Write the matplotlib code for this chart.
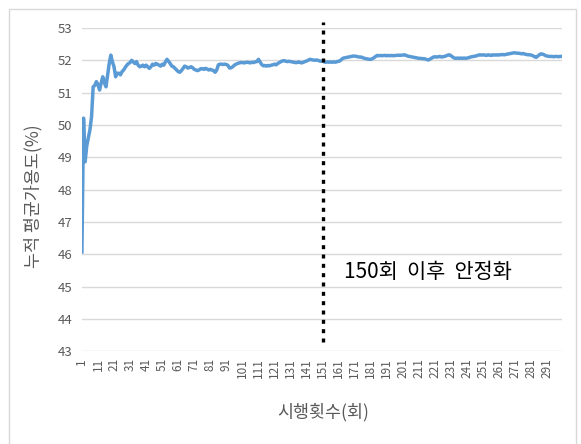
import numpy as np
import matplotlib
matplotlib.use("Agg")
import matplotlib.pyplot as plt
from matplotlib.patches import Rectangle

plt.rcParams['font.family'] = ['Noto Sans CJK KR', 'DejaVu Sans']

# cumulative mean availability (%) per trial (rows of 10 trials)
availability = [
    46.07, 50.21, 48.86, 49.35, 49.60, 49.85, 50.25, 51.18, 51.22, 51.34,
    51.25, 51.08, 51.30, 51.49, 51.30, 51.18, 51.55, 51.90, 52.16, 51.95,
    51.80, 51.49, 51.60, 51.60, 51.55, 51.65, 51.70, 51.78, 51.85, 51.90,
    51.93, 52.00, 51.95, 51.90, 51.96, 51.85, 51.80, 51.82, 51.85, 51.80,
    51.85, 51.80, 51.75, 51.80, 51.88, 51.85, 51.90, 51.88, 51.85, 51.82,
    51.88, 51.85, 51.95, 52.03, 51.97, 51.90, 51.82, 51.80, 51.75, 51.70,
    51.65, 51.63, 51.68, 51.75, 51.82, 51.80, 51.76, 51.78, 51.80, 51.77,
    51.72, 51.70, 51.68, 51.70, 51.74, 51.74, 51.72, 51.75, 51.73, 51.70,
    51.72, 51.70, 51.68, 51.63, 51.70, 51.86, 51.88, 51.88, 51.87, 51.88,
    51.87, 51.84, 51.76, 51.77, 51.80, 51.85, 51.88, 51.90, 51.92, 51.93,
    51.93, 51.92, 51.93, 51.94, 51.93, 51.92, 51.94, 51.93, 51.95, 51.96,
    52.03, 51.95, 51.87, 51.83, 51.84, 51.82, 51.84, 51.83, 51.85, 51.86,
    51.88, 51.86, 51.90, 51.93, 51.96, 51.98, 51.99, 51.97, 51.96, 51.97,
    51.96, 51.95, 51.94, 51.93, 51.93, 51.95, 51.93, 51.92, 51.94, 51.96,
    51.98, 52.00, 52.03, 52.02, 52.01, 52.00, 52.01, 52.00, 51.98, 51.97,
    51.98, 51.95, 51.94, 51.95, 51.94, 51.95, 51.94, 51.95, 51.94, 51.96,
    51.97, 51.99, 52.04, 52.07, 52.08, 52.09, 52.10, 52.11, 52.12, 52.13,
    52.13, 52.12, 52.11, 52.10, 52.10, 52.08, 52.06, 52.05, 52.04, 52.03,
    52.03, 52.05, 52.08, 52.12, 52.15, 52.14, 52.15, 52.14, 52.15, 52.15,
    52.14, 52.15, 52.14, 52.15, 52.14, 52.15, 52.15, 52.16, 52.15, 52.16,
    52.16, 52.17, 52.15, 52.13, 52.12, 52.11, 52.10, 52.09, 52.08, 52.07,
    52.06, 52.06, 52.05, 52.05, 52.04, 52.02, 52.01, 52.04, 52.07, 52.10,
    52.11, 52.10, 52.11, 52.12, 52.10, 52.11, 52.12, 52.14, 52.16, 52.17,
    52.14, 52.10, 52.07, 52.06, 52.07, 52.06, 52.07, 52.06, 52.07, 52.06,
    52.07, 52.08, 52.10, 52.11, 52.12, 52.13, 52.14, 52.16, 52.17, 52.16,
    52.17, 52.16, 52.15, 52.17, 52.16, 52.15, 52.17, 52.16, 52.17, 52.16,
    52.17, 52.17, 52.18, 52.17, 52.18, 52.19, 52.20, 52.21, 52.22, 52.23,
    52.23, 52.22, 52.22, 52.21, 52.20, 52.21, 52.19, 52.18, 52.17, 52.17,
    52.16, 52.14, 52.11, 52.09, 52.13, 52.17, 52.20, 52.19, 52.17, 52.14,
    52.13, 52.12, 52.12, 52.12, 52.11, 52.12, 52.12, 52.11, 52.12, 52.12,
]
trials = np.arange(1, len(availability) + 1)

x_ticks = list(range(1, 300, 10))
y_ticks = list(range(43, 54))

stable_trial = 151
note_text = "150회  이후  안정화"

fig = plt.figure(figsize=(5.81, 4.44), dpi=100)
ax = fig.add_axes([0.141, 0.209, 0.826, 0.728])

# outer chart frame like the spreadsheet export
fig.patches.append(Rectangle((0.0155, -0.01), 0.976, 0.99, transform=fig.transFigure,
                             fill=False, edgecolor='#D9D9D9', linewidth=1))

ax.plot(trials, availability, color='#5B9BD5', linewidth=2.5, solid_joinstyle='round', zorder=3)

ax.set_xlim(1, 300)
ax.set_ylim(43, 53)

# vertical dotted marker at the stabilising trial
ax.plot([stable_trial, stable_trial], [43.28, 53.19], color='black', linestyle=(0, (1.2, 1.6)),
        linewidth=2.4, clip_on=False, zorder=4)
ax.text(164.5, 45.45, note_text, fontsize=15, color='black', va='center', ha='left')

ax.set_yticks(y_ticks)
ax.set_xticks(x_ticks)
ax.set_xticklabels([str(t) for t in x_ticks], rotation=90, fontsize=8.5, color='#595959')
ax.tick_params(axis='y', labelsize=9.5, colors='#595959', length=0, pad=7)
ax.tick_params(axis='x', length=0, pad=5)
ax.grid(axis='y', color='#D9D9D9', linewidth=1)
ax.set_axisbelow(True)
for s in ax.spines.values():
    s.set_visible(False)

ax.set_ylabel("누적 평균가용도(%)", fontsize=12.5, color='#595959')
ax.yaxis.set_label_coords(-0.083, 0.48)
ax.set_xlabel("시행횟수(회)", fontsize=12.5, color='#595959')
ax.xaxis.set_label_coords(0.502, -0.16)

fig.savefig("out.png", dpi=100)
